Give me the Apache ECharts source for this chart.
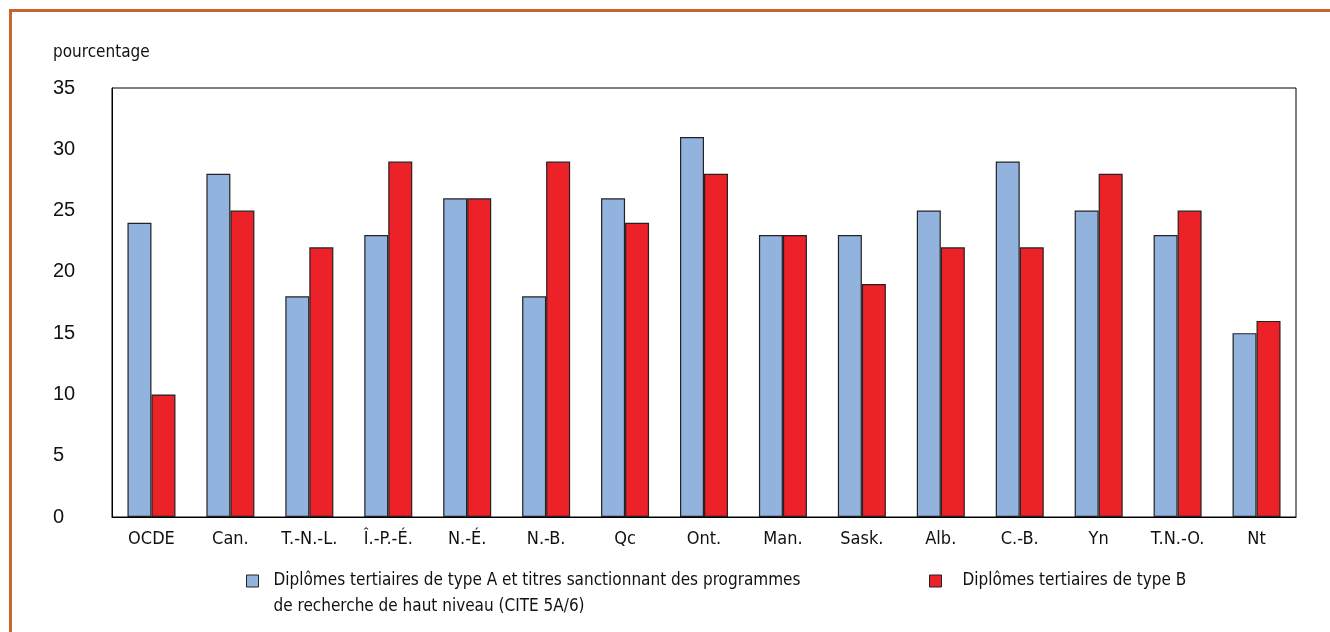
<!DOCTYPE html>
<html>
<head>
<meta charset="utf-8">
<script src="https://cdn.jsdelivr.net/npm/echarts@6/dist/echarts.min.js"></script>
<style>
html,body{margin:0;padding:0;background:#fff;}
#frame{position:absolute;left:9px;top:9px;width:1340px;height:700px;border-left:3px solid #c8642c;border-top:3px solid #c8642c;box-sizing:border-box;}
#chart{position:absolute;left:0;top:0;width:1330px;height:632px;}
</style>
</head>
<body>
<div id="frame"></div>
<div id="chart"></div>
<script>
const categories = ['OCDE','Can.','T.-N.-L.','Î.-P.-É.','N.-É.','N.-B.','Qc','Ont.','Man.','Sask.','Alb.','C.-B.','Yn','T.N.-O.','Nt'];
const typeA = [24,28,18,23,26,18,26,31,23,23,25,29,25,23,15];
const typeB = [10,25,22,29,26,29,24,28,23,19,22,22,28,25,16];
const nameA = 'Diplômes tertiaires de type A et titres sanctionnant des programmes\nde recherche de haut niveau (CITE 5A/6)';
const nameB = 'Diplômes tertiaires de type B';
const yTicks = [0,5,10,15,20,25,30,35];

const cond = '"Liberation Sans Narrow","DejaVu Sans Condensed","Roboto Condensed",sans-serif';
const chart = echarts.init(document.getElementById('chart'), null, {renderer:'canvas'});
chart.setOption({
  animation:false,
  backgroundColor:'transparent',
  graphic:[{type:'text',left:53,top:44,style:{text:'pourcentage',font:'17px '+cond,fill:'#111'}}],
  grid:{left:112,right:34,top:88,bottom:115,show:true,borderColor:'#000',borderWidth:1},
  legend:[
    {data:[nameA],left:246,top:542,padding:0,icon:'rect',itemWidth:12,itemHeight:12,
     formatter:n=>' \n'+n,
     itemStyle:{borderColor:'#222',borderWidth:1},
     textStyle:{fontFamily:cond,fontSize:17,color:'#111',lineHeight:26,padding:[0,0,0,10]}},
    {data:[nameB],left:929,top:568,padding:0,icon:'rect',itemWidth:12,itemHeight:12,
     itemStyle:{borderColor:'#222',borderWidth:1},
     textStyle:{fontFamily:cond,fontSize:17,color:'#111',lineHeight:26,padding:[0,0,0,16]}}
  ],
  xAxis:{type:'category',data:categories,
    axisLine:{show:true,lineStyle:{color:'#000',width:1}},axisTick:{show:false},
    axisLabel:{fontFamily:cond,fontSize:18,color:'#111',margin:13}},
  yAxis:{type:'value',min:0,max:35,interval:5,
    axisLine:{show:true,lineStyle:{color:'#000'}},axisTick:{show:false},splitLine:{show:false},
    axisLabel:{fontFamily:'"Liberation Sans",Arial,sans-serif',fontSize:20,color:'#111',align:'left',margin:59,
      formatter:v=>yTicks.includes(v)?String(v):''}},
  series:[
    {name:nameA,type:'bar',data:typeA,barWidth:24,barGap:'0%',
     itemStyle:{color:'#93b3df',borderColor:'#222',borderWidth:1.2}},
    {name:nameB,type:'bar',data:typeB,barWidth:24,barGap:'0%',
     itemStyle:{color:'#ed2128',borderColor:'#222',borderWidth:1.2}}
  ]
});
</script>
</body>
</html>
